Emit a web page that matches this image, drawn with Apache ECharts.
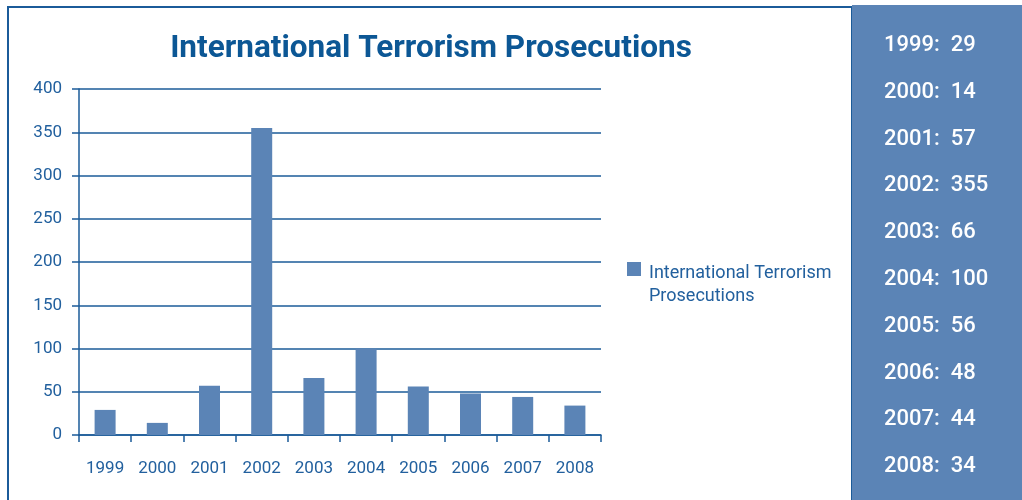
<!DOCTYPE html>
<html>
<head>
<meta charset="utf-8">
<script src="https://cdn.jsdelivr.net/npm/echarts@6/dist/echarts.min.js"></script>
<style>html,body{margin:0;padding:0;background:#fff}#c{width:1022px;height:500px}</style>
</head>
<body>
<div id="c"></div>
<script>
const categories = ['1999','2000','2001','2002','2003','2004','2005','2006','2007','2008'];
const values = [29, 14, 57, 355, 66, 100, 56, 48, 44, 34];
const yTicks = [0, 50, 100, 150, 200, 250, 300, 350, 400];
const seriesName = 'International Terrorism Prosecutions';

const lineColor = '#1b5b99';
const textColor = '#22609e';
const barColor = '#5b84b6';
const font = 'Roboto';

const chart = echarts.init(document.getElementById('c'), null, {renderer: 'canvas'});

const panelTexts = categories.map((c, i) => ({
  type: 'text',
  left: 884,
  top: 43.5 + i * 46.8 - 9,
  z: 10,
  style: {
    text: c + ':  ' + values[i],
    fill: '#ffffff',
    font: '500 22px ' + font
  }
}));

chart.setOption({
  animation: false,
  textStyle: {fontFamily: font},
  title: {
    text: seriesName,
    left: 426,
    textAlign: 'center',
    top: 28,
    textStyle: {color: '#0c5795', fontSize: 31.5, fontWeight: 'bold', fontFamily: font}
  },
  legend: {
    orient: 'vertical',
    left: 627,
    top: 262,
    padding: 0,
    itemWidth: 14,
    itemHeight: 46,
    itemGap: 8,
    data: [{name: seriesName, icon: 'path://M0,0L14,0L14,14L0,14Z M0,46L0.01,46L0,46Z'}],
    formatter: () => 'International Terrorism\nProsecutions',
    textStyle: {color: textColor, fontSize: 18, lineHeight: 23, fontFamily: font, padding: [0, 0, 0, 3]}
  },
  grid: {left: 79, right: 421, top: 89, bottom: 65, containLabel: false},
  xAxis: {
    type: 'category',
    data: categories,
    boundaryGap: true,
    axisLine: {show: true, lineStyle: {color: lineColor, width: 1.5}},
    axisTick: {show: true, length: 7, alignWithLabel: false, lineStyle: {color: lineColor, width: 1.5}},
    axisLabel: {color: textColor, fontSize: 17, margin: 25, interval: 0, fontFamily: font}
  },
  yAxis: {
    type: 'value',
    min: 0,
    max: 400,
    interval: 50,
    axisLine: {show: true, lineStyle: {color: lineColor, width: 1.5}},
    axisTick: {show: true, length: 7, lineStyle: {color: lineColor, width: 1.5}},
    splitLine: {show: true, lineStyle: {color: lineColor, width: 1.5}},
    axisLabel: {color: textColor, fontSize: 17, margin: 17, fontFamily: font,
      formatter: v => yTicks.includes(v) ? String(v) : ''}
  },
  series: [{
    name: seriesName,
    type: 'bar',
    data: values,
    barWidth: 21,
    itemStyle: {color: barColor}
  }],
  graphic: [
    {
      type: 'rect',
      z: -10,
      shape: {x: 8, y: 7, width: 844, height: 510},
      style: {fill: 'none', stroke: '#1b5b99', lineWidth: 2}
    },
    {
      type: 'rect',
      z: 5,
      shape: {x: 852, y: 5, width: 170, height: 500},
      style: {fill: barColor}
    },
    ...panelTexts
  ]
});
</script>
</body>
</html>
